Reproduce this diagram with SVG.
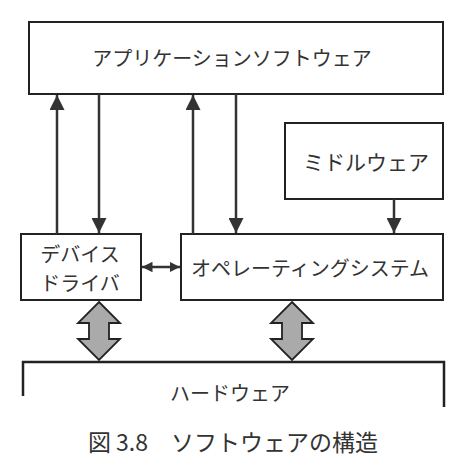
<svg xmlns="http://www.w3.org/2000/svg" width="472" height="471" viewBox="0 0 472 471">
<defs>
<style>
.box{fill:#fff;stroke:#222;stroke-width:2}
.t{font-family:"Noto Sans CJK JP","Noto Sans",sans-serif;font-size:20px;fill:#333;text-anchor:middle;dominant-baseline:central}
.ln{stroke:#333;stroke-width:2.5;fill:none}
.big{fill:#aaa;stroke:#222;stroke-width:1.8;stroke-linejoin:miter}
</style>
<marker id="ah" viewBox="0 0 10 10" refX="10" refY="5" markerWidth="6" markerHeight="6" markerUnits="strokeWidth" orient="auto-start-reverse">
<path d="M0,0 L10,5 L0,10 z" fill="#333"/>
</marker>
<marker id="sh" viewBox="0 0 10 10" refX="10" refY="5" markerWidth="4.2" markerHeight="4.2" markerUnits="strokeWidth" orient="auto-start-reverse">
<path d="M0,0 L10,5 L0,10 z" fill="#333"/>
</marker>
</defs>
<rect width="472" height="471" fill="#fff"/>
<g id="app">
<rect class="box" x="29" y="22" width="414" height="72"/>
<text class="t" x="232" y="57">アプリケーションソフトウェア</text>
</g>
<g id="middleware">
<rect class="box" x="285" y="123" width="158" height="76"/>
<text class="t" x="366" y="161" style="font-size:21px">ミドルウェア</text>
</g>
<g id="driver">
<rect class="box" x="21" y="234" width="120" height="66"/>
<text class="t" x="80" y="253">デバイス</text>
<text class="t" x="80" y="282">ドライバ</text>
</g>
<g id="os">
<rect class="box" x="181" y="234" width="262" height="66"/>
<text class="t" x="310" y="267">オペレーティングシステム</text>
</g>
<g id="hardware">
<path d="M23,407 V362 H444 V407" fill="none" stroke="#222" stroke-width="2.5"/>
<path d="M23,396 V407" stroke="#fff" stroke-width="4"/>
<text class="t" x="230" y="392">ハードウェア</text>
</g>
<g id="connectors">
<line class="ln" x1="57" y1="234" x2="57" y2="95" marker-end="url(#ah)"/>
<line class="ln" x1="99" y1="94" x2="99" y2="233" marker-end="url(#ah)"/>
<line class="ln" x1="193" y1="234" x2="193" y2="95" marker-end="url(#ah)"/>
<line class="ln" x1="236" y1="94" x2="236" y2="233" marker-end="url(#ah)"/>
<line class="ln" x1="394" y1="199" x2="394" y2="233" marker-end="url(#ah)"/>
<line class="ln" x1="142" y1="267" x2="180" y2="267" marker-start="url(#sh)" marker-end="url(#sh)"/>
<polygon class="big" points="99,302 120,323 109,323 109,339 120,339 99,360 78,339 89,339 89,323 78,323"/>
<polygon class="big" points="292,302 313,323 302,323 302,339 313,339 292,360 271,339 282,339 282,323 271,323"/>
</g>
<text class="t" x="233" y="441" style="font-size:23px">図 3.8　ソフトウェアの構造</text>
</svg>
